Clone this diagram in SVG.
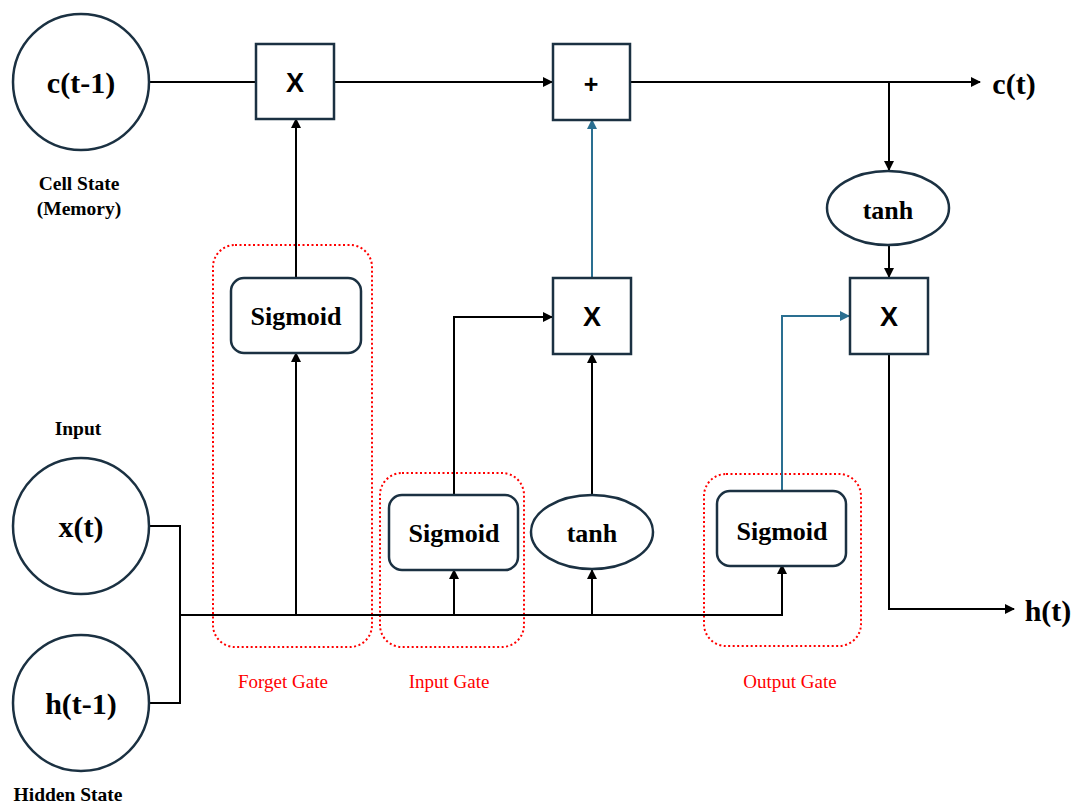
<svg xmlns="http://www.w3.org/2000/svg" width="1072" height="803" viewBox="0 0 1072 803">
  <defs>
    <marker id="arr" viewBox="0 0 10 10" refX="9" refY="5" markerWidth="10" markerHeight="10" markerUnits="userSpaceOnUse" orient="auto">
      <path d="M0,0 L10,5 L0,10 z" fill="#000"/>
    </marker>
    <marker id="arrBlue" viewBox="0 0 10 10" refX="9" refY="5" markerWidth="10" markerHeight="10" markerUnits="userSpaceOnUse" orient="auto">
      <path d="M0,0 L10,5 L0,10 z" fill="#2a6f91"/>
    </marker>
    <style>
      .node { fill: #fff; stroke: #1b3142; stroke-width: 2.5; }
      .wire { fill: none; stroke: #000; stroke-width: 2; }
      .wire-blue { fill: none; stroke: #2a6f91; stroke-width: 2; }
      .gate { fill: none; stroke: #ff0000; stroke-width: 2; stroke-dasharray: 2 2.5; }
      .lbl { font-family: "Liberation Serif", "Times New Roman", serif; font-weight: bold; fill: #000; text-anchor: middle; dominant-baseline: central; }
      .op { font-family: "Liberation Sans", Arial, sans-serif; font-weight: bold; fill: #000; text-anchor: middle; dominant-baseline: central; }
      .gate-lbl { font-family: "Liberation Serif", "Times New Roman", serif; font-size: 19px; fill: #ff0000; text-anchor: middle; dominant-baseline: central; }
    </style>
  </defs>

  <rect width="1072" height="803" fill="#fff"/>

  <!-- gate groupings -->
  <g id="gates">
    <rect class="gate" x="213" y="245" width="159" height="402" rx="22"/>
    <rect class="gate" x="380" y="473" width="144" height="174" rx="22"/>
    <rect class="gate" x="704" y="474" width="157" height="172" rx="22"/>
    <text class="gate-lbl" x="283" y="681">Forget Gate</text>
    <text class="gate-lbl" x="449" y="681">Input Gate</text>
    <text class="gate-lbl" x="790" y="681">Output Gate</text>
  </g>

  <!-- connectors -->
  <g id="connectors">
    <!-- cell state line -->
    <line class="wire" x1="150" y1="82" x2="256" y2="82"/>
    <line class="wire" x1="334" y1="82" x2="552" y2="82" marker-end="url(#arr)"/>
    <line class="wire" x1="630" y1="82" x2="980" y2="82" marker-end="url(#arr)"/>
    <line class="wire" x1="889" y1="82" x2="889" y2="170" marker-end="url(#arr)"/>
    <line class="wire" x1="889" y1="245" x2="889" y2="277" marker-end="url(#arr)"/>
    <!-- inputs joined onto the bus -->
    <polyline class="wire" points="150,526 180,526 180,703 150,703"/>
    <line class="wire" x1="180" y1="615" x2="783" y2="615"/>
    <!-- forget gate -->
    <line class="wire" x1="296" y1="615" x2="296" y2="353" marker-end="url(#arr)"/>
    <line class="wire" x1="296" y1="278" x2="296" y2="119" marker-end="url(#arr)"/>
    <!-- input gate -->
    <line class="wire" x1="454" y1="615" x2="454" y2="570" marker-end="url(#arr)"/>
    <polyline class="wire" points="454,495 454,317 552,317" marker-end="url(#arr)"/>
    <line class="wire" x1="592" y1="615" x2="592" y2="570" marker-end="url(#arr)"/>
    <line class="wire" x1="592" y1="495" x2="592" y2="354" marker-end="url(#arr)"/>
    <line class="wire-blue" x1="592" y1="278" x2="592" y2="120" marker-end="url(#arrBlue)"/>
    <!-- output gate -->
    <line class="wire" x1="782" y1="615" x2="782" y2="565" marker-end="url(#arr)"/>
    <polyline class="wire-blue" points="782,490 782,316 849,316" marker-end="url(#arrBlue)"/>
    <polyline class="wire" points="889,354 889,609 1014,609" marker-end="url(#arr)"/>
  </g>

  <!-- nodes -->
  <g id="c_prev">
    <circle class="node" cx="81" cy="82" r="68"/>
    <text class="lbl" x="81" y="82" font-size="30">c(t-1)</text>
    <text class="lbl" x="79" y="183" font-size="19.5">Cell State</text>
    <text class="lbl" x="79" y="208" font-size="19.5">(Memory)</text>
  </g>
  <g id="x_t">
    <circle class="node" cx="81" cy="526" r="68"/>
    <text class="lbl" x="81" y="526" font-size="30">x(t)</text>
    <text class="lbl" x="78" y="428" font-size="19.5">Input</text>
  </g>
  <g id="h_prev">
    <circle class="node" cx="81" cy="703" r="68"/>
    <text class="lbl" x="81" y="703" font-size="30">h(t-1)</text>
    <text class="lbl" x="68" y="794" font-size="19.5">Hidden State</text>
  </g>
  <g id="mul_forget">
    <rect class="node" x="256" y="44" width="78" height="75"/>
    <text class="op" x="295" y="83" font-size="27">X</text>
  </g>
  <g id="add_cell">
    <rect class="node" x="553" y="44" width="77" height="76"/>
    <text class="op" x="591" y="84" font-size="25">+</text>
  </g>
  <g id="sig_forget">
    <rect class="node" x="231" y="278" width="130" height="75" rx="13"/>
    <text class="lbl" x="296" y="316" font-size="26">Sigmoid</text>
  </g>
  <g id="mul_input">
    <rect class="node" x="553" y="278" width="78" height="76"/>
    <text class="op" x="592" y="317" font-size="27">X</text>
  </g>
  <g id="sig_input">
    <rect class="node" x="389" y="495" width="129" height="75" rx="13"/>
    <text class="lbl" x="454" y="533" font-size="26">Sigmoid</text>
  </g>
  <g id="tanh_input">
    <ellipse class="node" cx="592" cy="532" rx="61" ry="37"/>
    <text class="lbl" x="592" y="533" font-size="26">tanh</text>
  </g>
  <g id="tanh_cell">
    <ellipse class="node" cx="888" cy="208" rx="61" ry="37"/>
    <text class="lbl" x="888" y="210" font-size="26">tanh</text>
  </g>
  <g id="mul_output">
    <rect class="node" x="850" y="278" width="78" height="76"/>
    <text class="op" x="889" y="317" font-size="27">X</text>
  </g>
  <g id="sig_output">
    <rect class="node" x="717" y="491" width="129" height="75" rx="13"/>
    <text class="lbl" x="782" y="531" font-size="26">Sigmoid</text>
  </g>
  <g id="c_out">
    <text class="lbl" x="1014" y="83" font-size="30">c(t)</text>
  </g>
  <g id="h_out">
    <text class="lbl" x="1048" y="610" font-size="30">h(t)</text>
  </g>
</svg>
